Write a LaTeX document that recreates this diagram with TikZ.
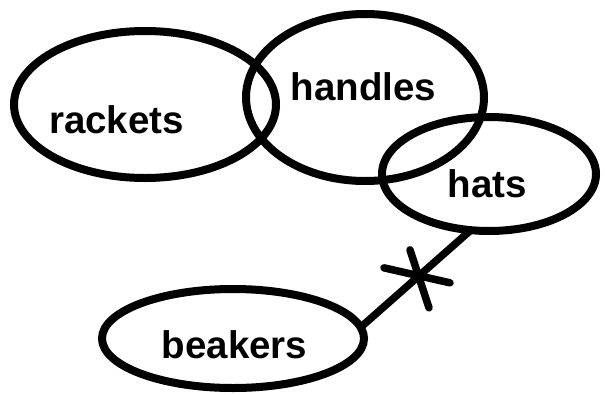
\documentclass[tikz,border=0pt]{standalone}
\usepackage{fontspec}
\setmainfont{Liberation Sans}
\usetikzlibrary{shapes.geometric}
\tikzset{
  blob/.style={ellipse,draw,line width=8pt,inner sep=0pt,outer sep=0pt},
  word/.style={inner sep=0pt,anchor=base,font=\fontsize{38.5}{40}\selectfont\bfseries}
}

\begin{document}
\begin{tikzpicture}[x=1pt,y=-1pt]
    \useasboundingbox (0,0) rectangle (605,394);
    % the four ellipses
    \node[blob,minimum width=262pt,minimum height=147pt] (rackets) at (145,104.5) {};
    \node[blob,minimum width=238pt,minimum height=167pt] (handles) at (365,97.5) {};
    \node[blob,minimum width=214pt,minimum height=114pt] (hats) at (489,174) {};
    \node[blob,minimum width=262pt,minimum height=99pt] (beakers) at (233,338.5) {};
    % their names
    \node[word] (rackets-txt) at (116.5,133) {rackets};
    \node[word] (handles-txt) at (363.5,100) {handles};
    \node[word] (hats-txt) at (487.5,197) {hats};
    \node[word] (beakers-txt) at (234.5,358) {beakers};
    % link with the cross
    \draw[line width=7.5pt] (beakers.5) -- coordinate[pos=0.53] (cut) (hats.252);
    \begin{scope}[line width=7.5pt,line cap=round]
      \draw (cut) ++(-35,-8) -- ++(66,15);
      \draw (cut) ++(-9,-26) -- ++(19,58);
    \end{scope}
  \end{tikzpicture}
\end{document}
